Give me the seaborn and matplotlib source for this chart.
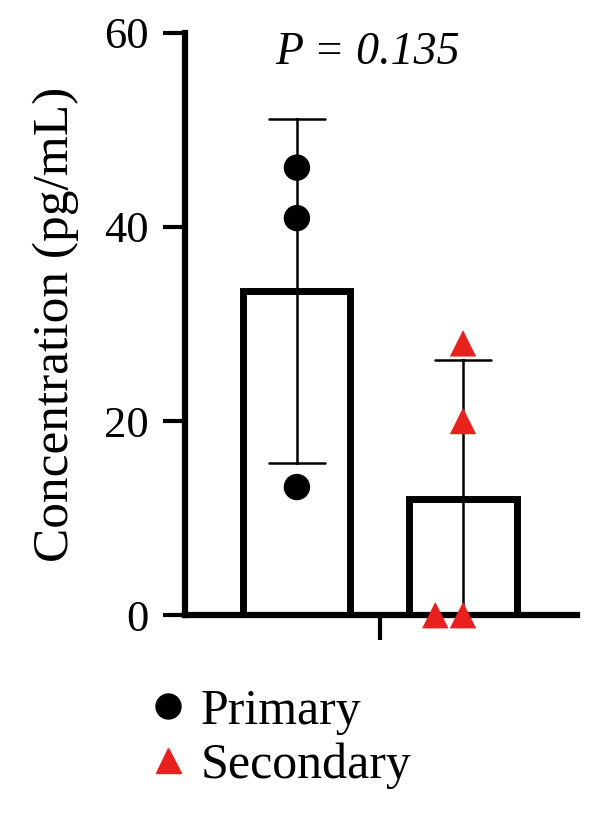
import seaborn as sns
import pandas as pd
import matplotlib.pyplot as plt

# values
groups = ["Primary", "Secondary"]
primary = [46.1, 40.9, 13.2]
secondary = [28.0, 20.0, 0.0, 0.0]
p_text = "P = 0.135"

data = pd.DataFrame({
    "type": ["Primary"] * len(primary) + ["Secondary"] * len(secondary),
    "value": primary + secondary,
})
data["group"] = "all"

sns.set_style("ticks")
plt.rcParams["font.family"] = ["Liberation Serif", "DejaVu Serif"]
for k in ["text.color", "axes.labelcolor", "xtick.color", "ytick.color", "axes.edgecolor"]:
    plt.rcParams[k] = "black"

fig = plt.figure(figsize=(6, 8.17), dpi=100)
ax = fig.add_axes([0.308, 0.247, 0.654, 0.713])

sns.barplot(x="group", y="value", hue="type", hue_order=groups, data=data,
            errorbar="sd", capsize=0.27, gap=0.355,
            palette=["white", "white"],
            edgecolor="black", linewidth=5,
            err_kws={"color": "black", "linewidth": 1.8},
            legend=False, ax=ax)

marks = {"Primary": ("o", "black", 19), "Secondary": ("^", "#e8201e", 19)}
for g in groups:
    m, c, s = marks[g]
    sns.swarmplot(x="group", y="value", hue="type", hue_order=groups,
                  data=data[data["type"] == g], dodge=True,
                  palette={k: c for k in groups},
                  marker=m, size=s, linewidth=0, clip_on=False, zorder=5,
                  legend=False, ax=ax)

ax.set_ylim(0, 60)
ax.set_xlim(-0.47, 0.475)
ax.set_yticks([0, 20, 40, 60])
ax.set_xticks([0])
ax.set_xticklabels([""])
ax.set_xlabel("")
ax.set_ylabel("Concentration (pg/mL)", fontsize=37, labelpad=18)
sns.despine(ax=ax)
for sp in ["left", "bottom"]:
    ax.spines[sp].set_linewidth(4.5)
ax.tick_params(axis="y", length=16, width=3, pad=10, labelsize=32)
ax.tick_params(axis="x", length=18, width=3)

ax.text(-0.03, 57.9, p_text, style="italic", fontsize=33, ha="center", va="center")

handles = [
    plt.Line2D([], [], marker="o", color="black", linestyle="", markersize=18),
    plt.Line2D([], [], marker="^", color="#e8201e", linestyle="", markersize=18),
]
fig.legend(handles, groups, loc="upper left", bbox_to_anchor=(0.205, 0.182),
           frameon=False, fontsize=36, handletextpad=0.15, labelspacing=0.15,
           handlelength=1.0, borderaxespad=0)

fig.savefig("out.png", dpi=100)
